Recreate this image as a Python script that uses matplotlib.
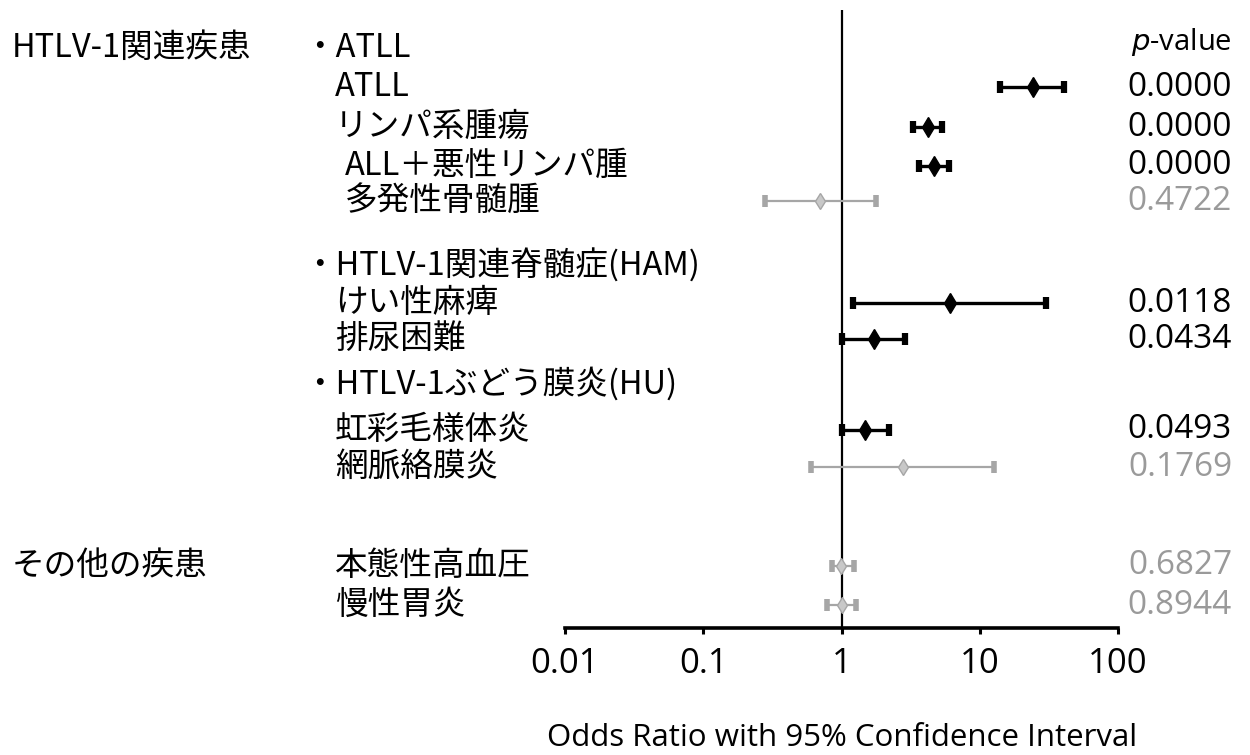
import matplotlib
matplotlib.use("Agg")
import matplotlib.pyplot as plt
import numpy as np

# ---------------- data ----------------
labels = ['ATLL', 'リンパ系腫瘍', 'ALL＋悪性リンパ腫', '多発性骨髄腫',
          'けい性麻痺', '排尿困難',
          '虹彩毛様体炎', '網脈絡膜炎',
          '本態性高血圧', '慢性胃炎']
odds_ratio = [24.2, 4.2, 4.64, 0.70, 6.06, 1.71, 1.49, 2.77, 0.99, 1.00]
ci_lower = [14.0, 3.27, 3.61, 0.28, 1.22, 1.00, 1.00, 0.60, 0.86, 0.79]
ci_upper = [40.6, 5.30, 5.96, 1.79, 30.1, 2.86, 2.19, 12.6, 1.24, 1.28]
p_values = ['0.0000', '0.0000', '0.0000', '0.4722', '0.0118', '0.0434',
            '0.0493', '0.1769', '0.6827', '0.8944']
group_labels = ['HTLV-1関連疾患', 'その他の疾患']
section_headers = ['・ATLL', '・HTLV-1関連脊髄症(HAM)', '・HTLV-1ぶどう膜炎(HU)']
x_ticks = [0.01, 0.1, 1, 10, 100]
x_ticklabels = ['0.01', '0.1', '1', '10', '100']
x_label = 'Odds Ratio with 95% Confidence Interval'

# ---------------- layout (pixels) ----------------
W, H = 1250, 755
row_y = [87, 127, 166, 201, 303, 339, 430, 467, 566, 605]
label_x = [335, 335, 345, 345, 335, 335, 335, 335, 335, 335]
header_y = [48, 266, 384]
group_y = [48, 566]

JP = ['Noto Sans CJK JP', 'DejaVu Sans']
NUM = ['Open Sans', 'DejaVu Sans']

fig = plt.figure(figsize=(W / 100, H / 100), dpi=100)
ax_left, ax_right = 565, 1118
ax_top, ax_bottom = 10, 628
ax = fig.add_axes([ax_left / W, 1 - ax_bottom / H,
                   (ax_right - ax_left) / W, (ax_bottom - ax_top) / H])
ax.set_xscale('log')
ax.set_xlim(0.01, 100)
ax.set_ylim(ax_bottom, ax_top)

for s in ['top', 'right', 'left']:
    ax.spines[s].set_visible(False)
ax.spines['bottom'].set_linewidth(2.6)
ax.set_yticks([])
ax.set_xticks(x_ticks)
ax.set_xticklabels(x_ticklabels, fontsize=25, family=NUM)
ax.xaxis.set_minor_locator(matplotlib.ticker.NullLocator())
ax.tick_params(axis='x', direction='out', length=4, width=2.2, pad=10)

ax.axvline(1, color='black', lw=1.6, zorder=1)

p_num = [float(p) for p in p_values]
for i in range(len(labels)):
    sig = p_num[i] < 0.05
    y = row_y[i]
    orv = odds_ratio[i]
    err = [[orv - ci_lower[i]], [ci_upper[i] - orv]]
    if sig:
        ax.errorbar([orv], [y], xerr=err, fmt='d', color='black',
                    ms=10, elinewidth=2.4, capsize=4.5, capthick=4.5, zorder=3)
    else:
        ax.errorbar([orv], [y], xerr=err, fmt='d', color='#a6a6a6',
                    mfc='#c8c8c8', ms=8, elinewidth=1.6, capsize=4, capthick=4, zorder=3)

def px(x, y):
    return x / W, 1 - y / H

# left group labels
for g, gy in zip(group_labels, group_y):
    fig.text(*px(12, gy), g, fontsize=23.5, family=JP, va='center', ha='left')

for h, hy in zip(section_headers, header_y):
    fig.text(*px(303, hy), h, fontsize=23.5, family=JP, va='center', ha='left')

for lab, lx, ly in zip(labels, label_x, row_y):
    fig.text(*px(lx, ly), lab, fontsize=23.5, family=JP, va='center', ha='left')

# p-values
fig.text(*px(1232, 42), r'$\it{p}$' + '-value', fontsize=21, family=NUM,
         va='center', ha='right')
for p, pn, py in zip(p_values, p_num, row_y):
    col = 'black' if pn < 0.05 else '#9a9a9a'
    fig.text(*px(1232, py), p, fontsize=24, family=NUM, va='center', ha='right',
             color=col)

fig.text(*px(842, 738), x_label, fontsize=22.5, family=NUM, va='center', ha='center')

fig.savefig('out.png', dpi=100)
